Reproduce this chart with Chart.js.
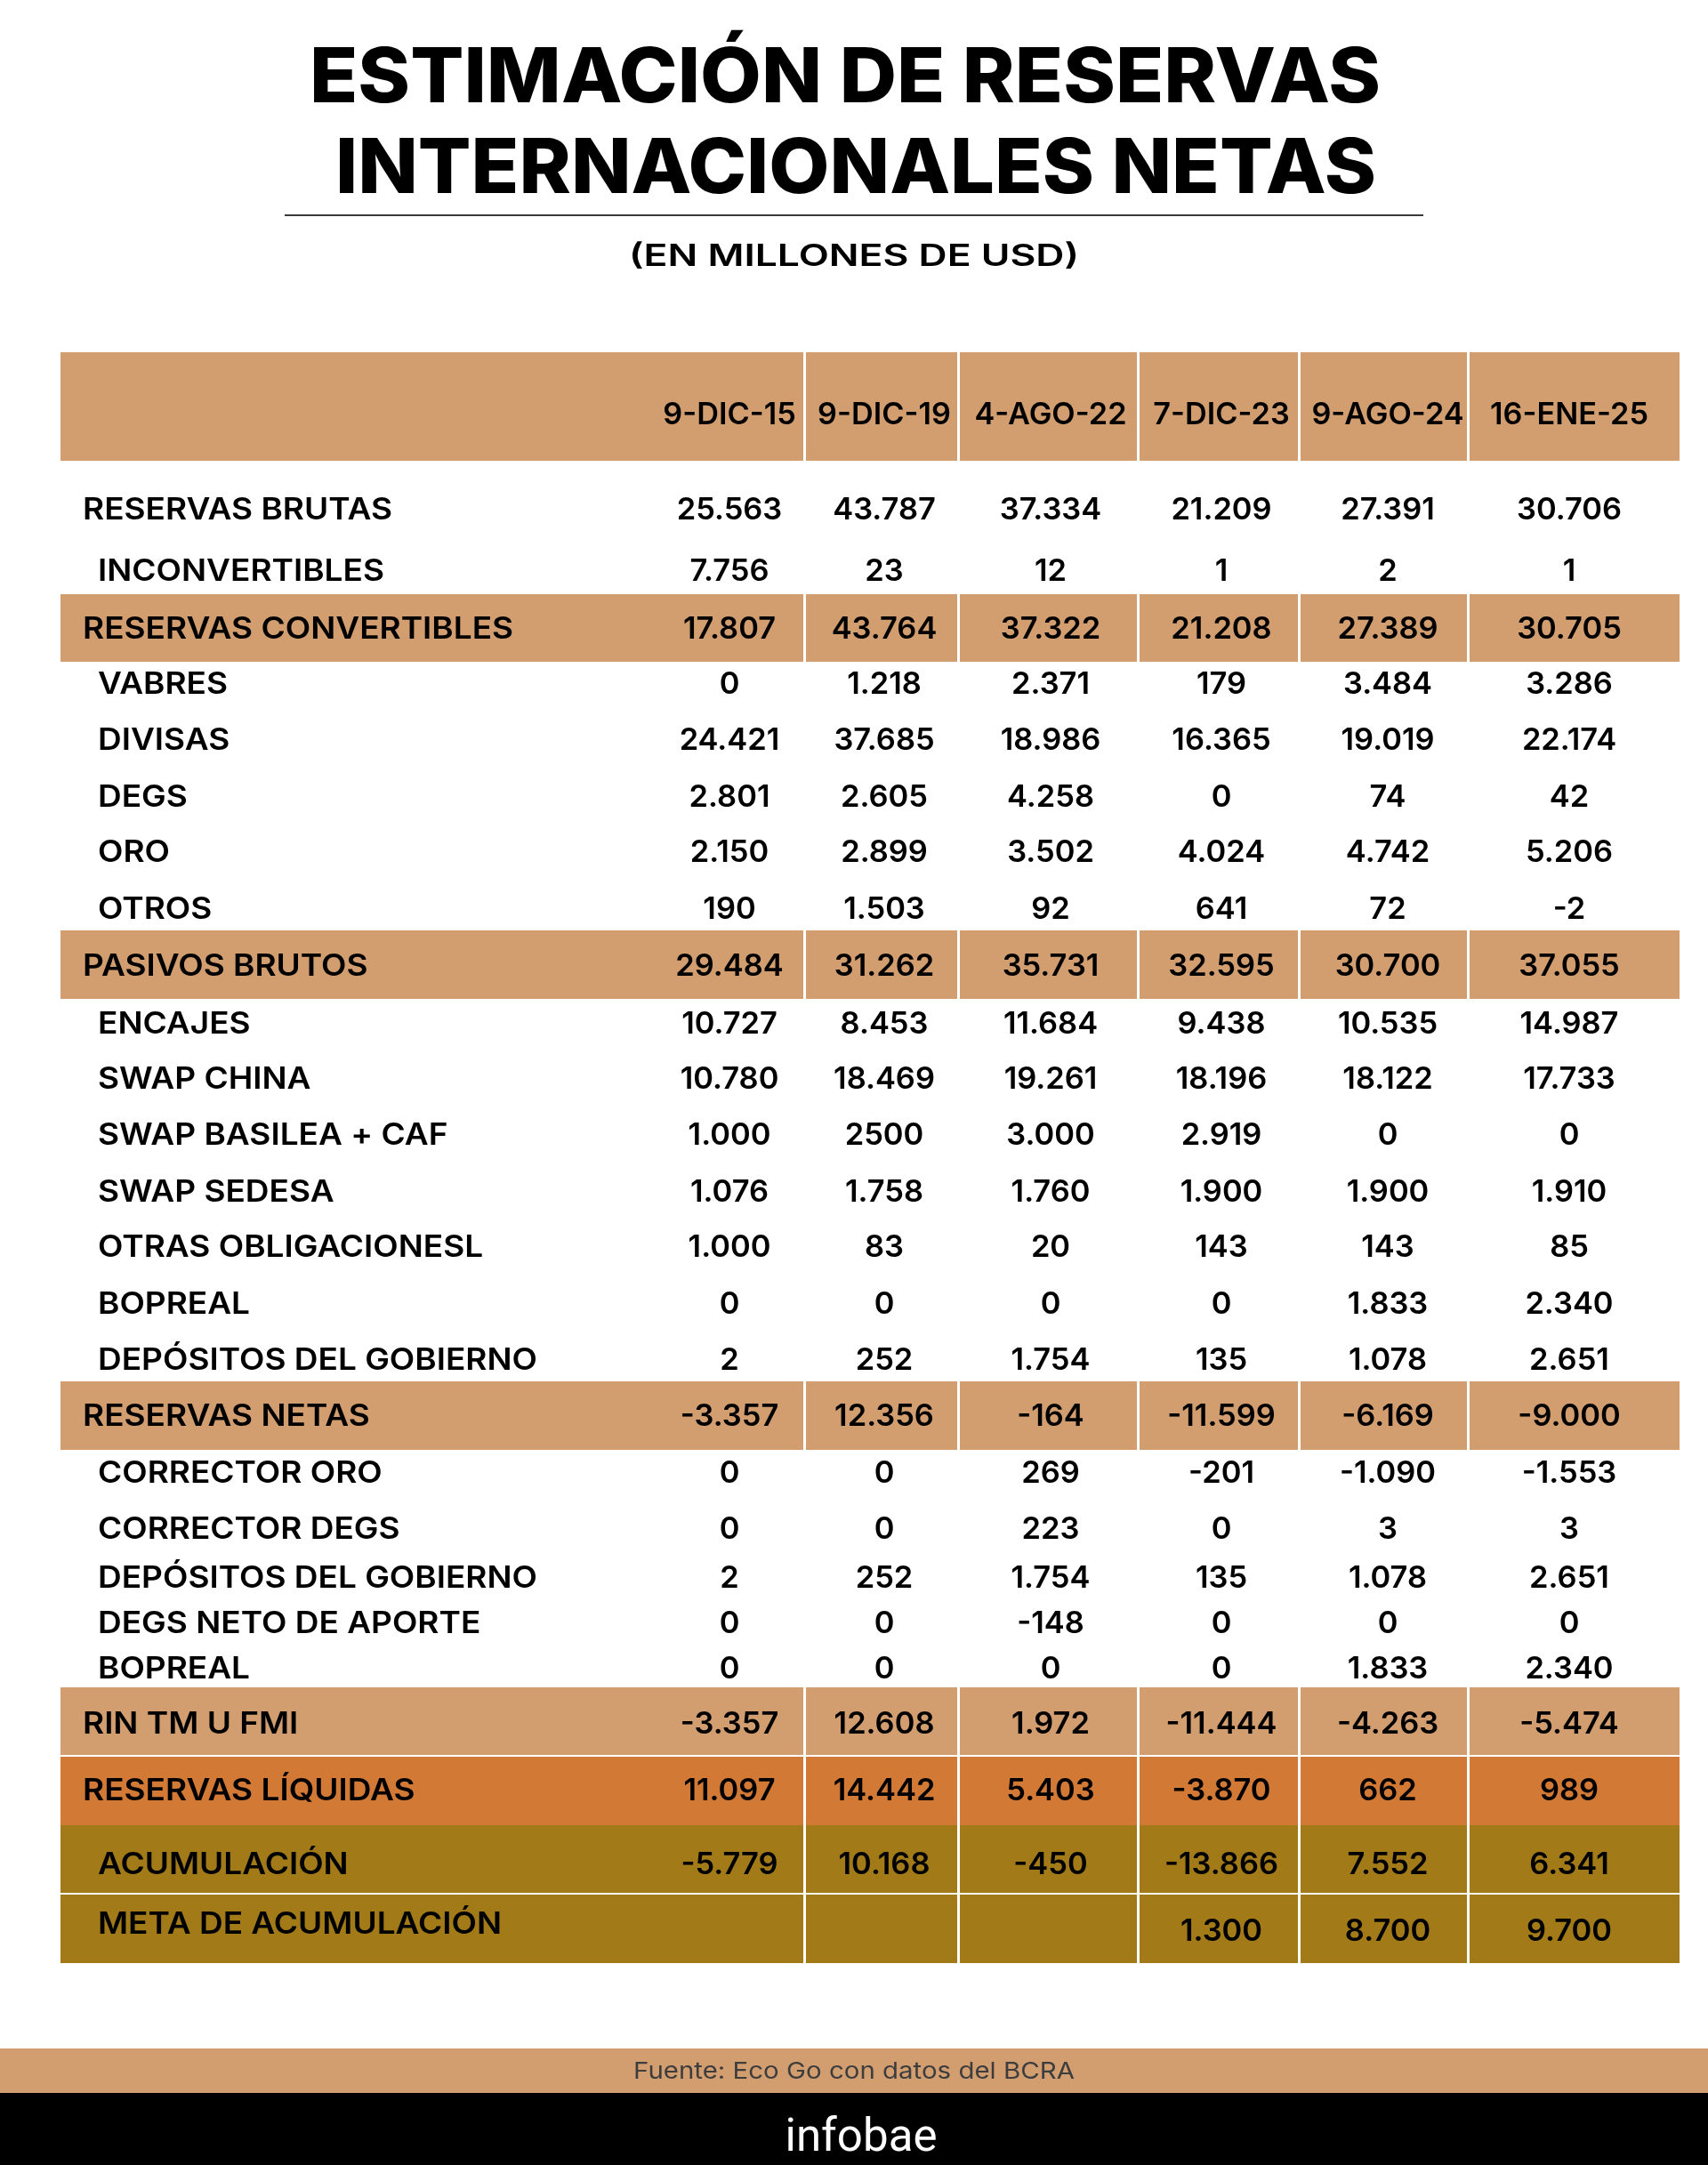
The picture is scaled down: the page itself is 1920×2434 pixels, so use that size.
<!DOCTYPE html>
<html><head><meta charset="utf-8">
<script src="https://cdn.jsdelivr.net/npm/chart.js@4.4.1/dist/chart.umd.min.js"></script>
<style>html,body{margin:0;padding:0;background:#fff;}canvas{display:block;}</style>
</head><body>
<canvas id="c" width="1920" height="2434" style="width:1920px;height:2434px"></canvas>
<script>
// ---------------- DATA ----------------
const titleLines = ["ESTIMACIÓN DE RESERVAS", "INTERNACIONALES NETAS"];
const subtitle = "(EN MILLONES DE USD)";
const sourceText = "Fuente: Eco Go con datos del BCRA";
const brandText = "infobae";

const columns = ["9-DIC-15", "9-DIC-19", "4-AGO-22", "7-DIC-23", "9-AGO-24", "16-ENE-25"];

const rowLabels = [
  "RESERVAS BRUTAS", "INCONVERTIBLES", "RESERVAS CONVERTIBLES", "VABRES", "DIVISAS", "DEGS", "ORO", "OTROS",
  "PASIVOS BRUTOS", "ENCAJES", "SWAP CHINA", "SWAP BASILEA + CAF", "SWAP SEDESA", "OTRAS OBLIGACIONESL",
  "BOPREAL", "DEPÓSITOS DEL GOBIERNO", "RESERVAS NETAS", "CORRECTOR ORO", "CORRECTOR DEGS",
  "DEPÓSITOS DEL GOBIERNO", "DEGS NETO DE APORTE", "BOPREAL", "RIN TM U FMI", "RESERVAS LÍQUIDAS",
  "ACUMULACIÓN", "META DE ACUMULACIÓN"
];
const rowKinds = [
  "main", "sub", "total", "sub", "sub", "sub", "sub", "sub",
  "total", "sub", "sub", "sub", "sub", "sub",
  "sub", "sub", "total", "sub", "sub",
  "sub", "sub", "sub", "total", "liquid",
  "accum", "goal"
];

const dic15 = [25563, 7756, 17807, 0, 24421, 2801, 2150, 190, 29484, 10727, 10780, 1000, 1076, 1000, 0, 2, -3357, 0, 0, 2, 0, 0, -3357, 11097, -5779, null];
const dic19 = [43787, 23, 43764, 1218, 37685, 2605, 2899, 1503, 31262, 8453, 18469, 2500, 1758, 83, 0, 252, 12356, 0, 0, 252, 0, 0, 12608, 14442, 10168, null];
const ago22 = [37334, 12, 37322, 2371, 18986, 4258, 3502, 92, 35731, 11684, 19261, 3000, 1760, 20, 0, 1754, -164, 269, 223, 1754, -148, 0, 1972, 5403, -450, null];
const dic23 = [21209, 1, 21208, 179, 16365, 0, 4024, 641, 32595, 9438, 18196, 2919, 1900, 143, 0, 135, -11599, -201, 0, 135, 0, 0, -11444, -3870, -13866, 1300];
const ago24 = [27391, 2, 27389, 3484, 19019, 74, 4742, 72, 30700, 10535, 18122, 0, 1900, 143, 1833, 1078, -6169, -1090, 3, 1078, 0, 1833, -4263, 662, 7552, 8700];
const ene25 = [30706, 1, 30705, 3286, 22174, 42, 5206, -2, 37055, 14987, 17733, 0, 1910, 85, 2340, 2651, -9000, -1553, 3, 2651, 0, 2340, -5474, 989, 6341, 9700];
const seriesList = [dic15, dic19, ago22, dic23, ago24, ene25];

// cells printed differently from the standard number format in the source graphic
const printedAs = { "SWAP BASILEA + CAF|9-DIC-19": "2500" };

// ---------------- STYLE / LAYOUT ----------------
const TAN = "#D29E70", ORANGE = "#D27936", OLIVE = "#A27B18";
const FAM = 'Inter, "Open Sans", sans-serif';
const kindStyle = {
  main:   { indent: 25 },
  sub:    { indent: 42 },
  total:  { indent: 25, fill: TAN },
  liquid: { indent: 25, fill: ORANGE, divider: true },
  accum:  { indent: 42, fill: OLIVE },
  goal:   { indent: 42, fill: OLIVE, divider: true, labelDy: -8 }
};
// grid tracks: [before-center, after-center] size of each column / row (header row first)
const colTracks = [332, 332, 88, 84, 90, 83, 104, 98, 94, 87, 100, 90, 114, 124];
const rowTracks = [68, 54, 53, 34, 35, 28, 37, 39, 23, 31, 32, 32, 32, 31, 31, 32, 32, 26, 38, 39,
  26, 31, 31, 31, 32, 32, 32, 31, 31, 32, 32, 31, 32, 26, 37, 40, 24, 32, 31, 28, 27, 25, 26, 26,
  25, 23, 39, 38, 37, 41, 42, 35, 40, 38];

// ---------------- CUSTOM GRID SCALE ----------------
class TrackScale extends Chart.LinearScale {
  _segs() { const s = this.options.segments; return Array.isArray(s) ? s : Array.from(s || []); }
  getPixelForValue(value) {
    const seg = this._segs();
    const total = seg.reduce((a, b) => a + b, 0);
    let t = (value - this.min) * 2;
    t = Math.max(0, Math.min(seg.length, t));
    const k = Math.min(seg.length - 1, Math.floor(t));
    let acc = 0;
    for (let i = 0; i < k; i++) acc += seg[i];
    acc += seg[k] * (t - k);
    const d = acc / total;
    return this.isHorizontal() ? this.left + d * this.width : this.top + d * this.height;
  }
  getValueForPixel(pixel) {
    const seg = this._segs();
    const total = seg.reduce((a, b) => a + b, 0);
    const len = this.isHorizontal() ? this.width : this.height;
    const start = this.isHorizontal() ? this.left : this.top;
    let target = (pixel - start) / len * total, acc = 0;
    for (let i = 0; i < seg.length; i++) {
      if (acc + seg[i] >= target) return this.min + (i + (target - acc) / seg[i]) / 2;
      acc += seg[i];
    }
    return this.max;
  }
}
TrackScale.id = "track";
TrackScale.defaults = {};
Chart.register(TrackScale);

// ---------------- TEXT HELPERS ----------------
function fitX(ctx, font, sample, target) {
  ctx.save(); ctx.font = font; const w = ctx.measureText(sample).width; ctx.restore();
  return target / w;
}
function put(ctx, text, x, yc, font, sx, align, color) {
  ctx.save();
  ctx.font = font; ctx.fillStyle = color; ctx.textAlign = align; ctx.textBaseline = "alphabetic";
  const cap = ctx.measureText("H").actualBoundingBoxAscent;
  ctx.translate(x, yc + cap / 2); ctx.scale(sx, 1);
  ctx.fillText(text, 0, 0);
  ctx.restore();
}
const fmt = v => v.toLocaleString("de-DE");

const tablePlugin = {
  id: "tablePlugin",
  beforeDraw(chart) {
    const ctx = chart.ctx, xs = chart.scales.x, ys = chart.scales.y;
    ctx.save();
    ctx.fillStyle = "#fff"; ctx.fillRect(0, 0, chart.width, chart.height);
    // title
    const tf = `800 85px ${FAM}`;
    put(ctx, titleLines[0], 950, 84, tf, fitX(ctx, tf, titleLines[0], 1204), "center", "#000");
    put(ctx, titleLines[1], 962, 186, tf, fitX(ctx, tf, titleLines[1], 1170), "center", "#000");
    ctx.strokeStyle = "#3a3a3a"; ctx.lineWidth = 2;
    ctx.beginPath(); ctx.moveTo(320, 242); ctx.lineTo(1600, 242); ctx.stroke();
    const sf = `600 34px ${FAM}`;
    put(ctx, subtitle, 960, 286, sf, fitX(ctx, sf, subtitle, 506), "center", "#000");
    // footer
    ctx.fillStyle = TAN; ctx.fillRect(0, 2303, chart.width, 50);
    ctx.fillStyle = "#000"; ctx.fillRect(0, 2353, chart.width, 81);
    const ff = `400 26px ${FAM}`;
    put(ctx, sourceText, 960, 2327.5, ff, fitX(ctx, ff, sourceText, 496), "center", "#3d3d3d");
    const bf = `400 52px Roboto, ${FAM}`;
    put(ctx, brandText, 968, 2399, bf, fitX(ctx, bf, brandText, 171), "center", "#fff");

    // table bands
    const left = xs.getPixelForValue(-0.5), right = xs.getPixelForValue(columns.length + 0.5);
    const bandRows = [{ yi: 0, fill: TAN, divider: false }];
    rowKinds.forEach((k, r) => { const st = kindStyle[k]; if (st.fill) bandRows.push({ yi: r + 1, fill: st.fill, divider: !!st.divider }); });
    bandRows.forEach(b => {
      const top = ys.getPixelForValue(b.yi - 0.5), bot = ys.getPixelForValue(b.yi + 0.5);
      ctx.fillStyle = b.fill; ctx.fillRect(left, top, right - left, bot - top);
    });
    ctx.strokeStyle = "#fff"; ctx.lineWidth = 3;
    bandRows.forEach(b => {
      const top = ys.getPixelForValue(b.yi - 0.5), bot = ys.getPixelForValue(b.yi + 0.5);
      for (let c = 2; c <= columns.length; c++) {
        const px = Math.round(xs.getPixelForValue(c - 0.5)) + 0.5;
        ctx.beginPath(); ctx.moveTo(px, top); ctx.lineTo(px, bot); ctx.stroke();
      }
    });
    ctx.lineWidth = 2;
    bandRows.forEach(b => {
      if (!b.divider) return;
      const top = ys.getPixelForValue(b.yi - 0.5);
      ctx.beginPath(); ctx.moveTo(left, top); ctx.lineTo(right, top); ctx.stroke();
    });
    ctx.restore();
  },
  afterDatasetsDraw(chart) {
    const ctx = chart.ctx, xs = chart.scales.x, ys = chart.scales.y;
    const bodyFont = `600 34px ${FAM}`;
    const sxLabel = fitX(ctx, bodyFont, "RESERVAS BRUTAS", 348);
    const sxVal = fitX(ctx, bodyFont, "30.706", 118);
    const sxHead = fitX(ctx, bodyFont, "16-ENE-25", 178);
    // header
    columns.forEach((col, c) => put(ctx, col, xs.getPixelForValue(c + 1), ys.getPixelForValue(0), bodyFont, sxHead, "center", "#000"));
    // row labels
    const x0 = xs.getPixelForValue(-0.5);
    rowLabels.forEach((lab, r) => {
      const st = kindStyle[rowKinds[r]];
      put(ctx, lab, x0 + st.indent, ys.getPixelForValue(r + 1) + (st.labelDy || 0), bodyFont, sxLabel, "left", "#000");
    });
    // values at the points placed by the scales
    chart.data.datasets.forEach((ds, c) => {
      const meta = chart.getDatasetMeta(c);
      meta.data.forEach((pt, i) => {
        const d = ds.data[i];
        if (d.v === null || d.v === undefined) return;
        const key = rowLabels[d.y - 1] + "|" + ds.label;
        const txt = printedAs[key] || fmt(d.v);
        put(ctx, txt, pt.x, pt.y, bodyFont, sxVal, "center", "#000");
      });
    });
  }
};

function build() {
  new Chart(document.getElementById("c"), {
    type: "scatter",
    data: {
      datasets: columns.map((col, c) => ({
        label: col,
        data: seriesList[c].map((v, r) => ({ x: c + 1, y: r + 1, v })),
        pointRadius: 0, pointHoverRadius: 0
      }))
    },
    options: {
      responsive: false, animation: false, devicePixelRatio: 1, events: [],
      layout: { padding: { left: 68, right: 32, top: 396, bottom: 227 } },
      plugins: { legend: { display: false }, tooltip: { enabled: false }, title: { display: false } },
      scales: {
        x: { type: "track", min: -0.5, max: columns.length + 0.5, segments: colTracks, display: false },
        y: { type: "track", min: -0.5, max: rowLabels.length + 0.5, segments: rowTracks, display: false }
      }
    },
    plugins: [tablePlugin]
  });
}
const loads = ["800 85px Inter", "600 34px Inter", "400 26px Inter", "400 52px Roboto"].map(f => document.fonts.load(f).catch(() => null));
Promise.all(loads).then(build, build);
</script>
</body></html>
